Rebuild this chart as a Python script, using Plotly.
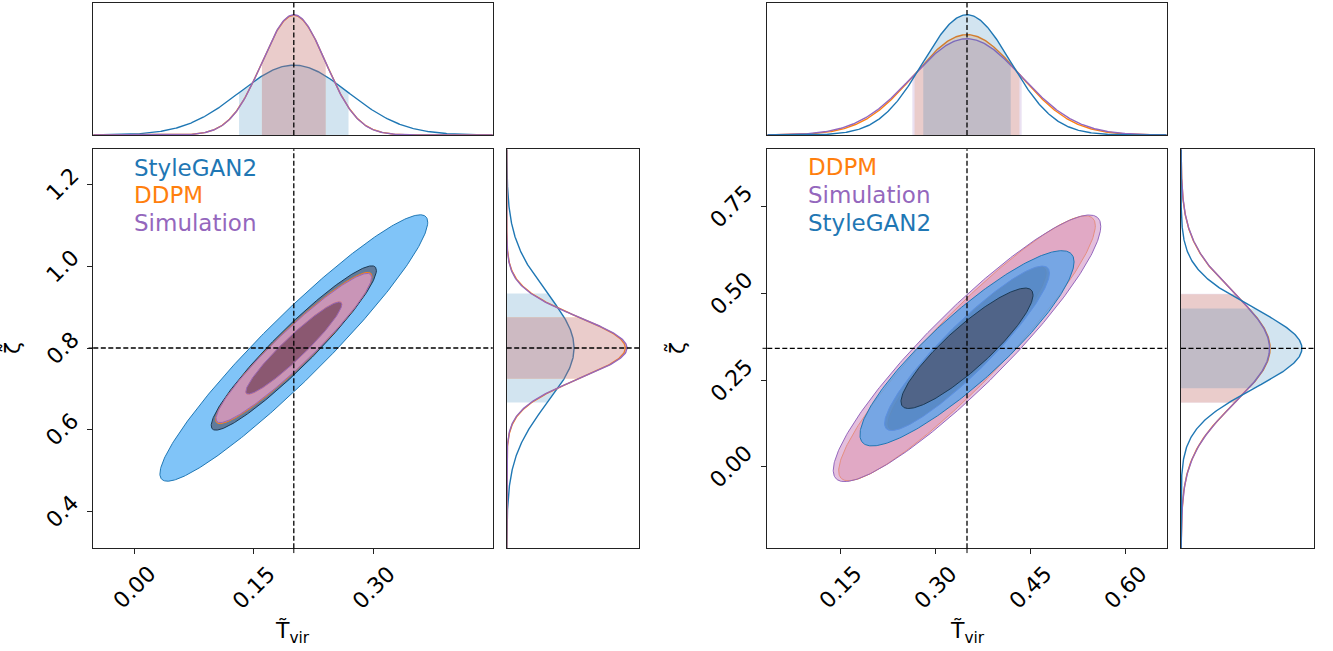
import numpy as np
import plotly.graph_objects as go

W, H = 1333, 651

# ---------------- data ----------------
# Left panel
left_models = ["StyleGAN2", "DDPM", "Simulation"]
left_mu_x = [0.200, 0.200, 0.200]
left_mu_y = [0.800, 0.800, 0.800]
left_sig_x = [0.0685, 0.0400, 0.0398]
left_sig_y = [0.1330, 0.0755, 0.0745]
left_rho = [0.944, 0.945, 0.946]
left_truth = [0.20, 0.80]
left_xticks = [0.00, 0.15, 0.30]
left_yticks = [0.4, 0.6, 0.8, 1.0, 1.2]
left_xticklabels = ["0.00", "0.15", "0.30"]
left_yticklabels = ["0.4", "0.6", "0.8", "1.0", "1.2"]
left_xrange = [-0.051, 0.449]
left_yrange = [0.3105, 1.2856]

# Right panel
right_models = ["DDPM", "Simulation", "StyleGAN2"]
right_mu_x = [0.350, 0.350, 0.350]
right_mu_y = [0.342, 0.342, 0.342]
right_sig_x = [0.0827, 0.0862, 0.0690]
right_sig_y = [0.156, 0.157, 0.115]
right_rho = [0.925, 0.915, 0.885]
right_truth = [0.35, 0.342]
right_xticks = [0.15, 0.30, 0.45, 0.60]
right_yticks = [0.00, 0.25, 0.50, 0.75]
right_xticklabels = ["0.15", "0.30", "0.45", "0.60"]
right_yticklabels = ["0.00", "0.25", "0.50", "0.75"]
right_xrange = [0.035, 0.665]
right_yrange = [-0.2345, 0.9156]

conf_levels = [0.95, 0.68]  # outer contour first

# ---------------- styles ----------------
line_col = {"StyleGAN2": "#1f77b4", "DDPM": "#ff7f0e", "Simulation": "#9467bd"}
fill_95 = {"StyleGAN2": "rgba(60,165,245,0.65)", "DDPM": "rgba(240,160,155,0.62)",
           "Simulation": "rgba(212,152,200,0.62)"}
fill_68 = {"StyleGAN2": "rgba(75,75,93,0.6)", "DDPM": "rgba(150,80,60,0.5)",
           "Simulation": "rgba(84,40,61,0.5)"}
line_68 = {"StyleGAN2": "#1c3a55", "DDPM": "#ff7f0e", "Simulation": "#9467bd"}
marg_fill = {"StyleGAN2": "rgba(31,119,180,0.2)", "DDPM": "rgba(255,127,14,0.2)",
             "Simulation": "rgba(148,103,189,0.2)"}

FONT = "DejaVu Sans"
TICK_SIZE = 22


def px_x(p):
    return p / W


def px_y(p):
    return 1 - p / H


def gauss(t, mu, s):
    return np.exp(-0.5 * ((t - mu) / s) ** 2) / (s * np.sqrt(2 * np.pi))


fig = go.Figure()


def add_panel(models, mux, muy, sx, sy, rho, truth, xr, yr, ax):
    a_main, a_top, a_side = ax
    th = np.linspace(0, 2 * np.pi, 361)
    gx = np.linspace(xr[0], xr[1], 500)
    gy = np.linspace(yr[0], yr[1], 500)
    peak_top = max(1 / (s * np.sqrt(2 * np.pi)) for s in sx)
    peak_side = max(1 / (s * np.sqrt(2 * np.pi)) for s in sy)

    for i, m in enumerate(models):
        # 2D contours
        for cl in conf_levels:
            k = np.sqrt(-2 * np.log(1 - cl))
            ex = mux[i] + k * sx[i] * np.cos(th)
            ey = muy[i] + k * sy[i] * (rho[i] * np.cos(th) + np.sqrt(1 - rho[i] ** 2) * np.sin(th))
            fig.add_trace(go.Scatter(
                x=ex, y=ey, mode="lines", fill="toself",
                fillcolor=fill_95[m] if cl == 0.95 else fill_68[m],
                line=dict(color=line_col[m] if cl == 0.95 else line_68[m], width=1),
                xaxis=a_main[0], yaxis=a_main[1], hoverinfo="skip", showlegend=False))
        # top marginal
        band = np.linspace(mux[i] - sx[i], mux[i] + sx[i], 200)
        fig.add_trace(go.Scatter(x=band, y=gauss(band, mux[i], sx[i]), mode="lines",
                                 fill="tozeroy", fillcolor=marg_fill[m], line=dict(width=0),
                                 xaxis=a_top[0], yaxis=a_top[1], hoverinfo="skip", showlegend=False))
        fig.add_trace(go.Scatter(x=gx, y=gauss(gx, mux[i], sx[i]), mode="lines",
                                 line=dict(color=line_col[m], width=1.4),
                                 xaxis=a_top[0], yaxis=a_top[1], hoverinfo="skip", showlegend=False))
        # side marginal
        band = np.linspace(muy[i] - sy[i], muy[i] + sy[i], 200)
        fig.add_trace(go.Scatter(x=gauss(band, muy[i], sy[i]), y=band, mode="lines",
                                 fill="tozerox", fillcolor=marg_fill[m], line=dict(width=0),
                                 xaxis=a_side[0], yaxis=a_side[1], hoverinfo="skip", showlegend=False))
        fig.add_trace(go.Scatter(x=gauss(gy, muy[i], sy[i]), y=gy, mode="lines",
                                 line=dict(color=line_col[m], width=1.4),
                                 xaxis=a_side[0], yaxis=a_side[1], hoverinfo="skip", showlegend=False))

    # truth lines
    dash = dict(color="black", width=1.3, dash="5px,2.5px")
    for (xa, ya) in [a_main, a_top]:
        fig.add_shape(type="line", xref=xa, yref=ya + " domain", x0=truth[0], x1=truth[0],
                      y0=0, y1=1, line=dash, layer="above")
    for (xa, ya) in [a_main, a_side]:
        fig.add_shape(type="line", xref=xa + " domain", yref=ya, x0=0, x1=1,
                      y0=truth[1], y1=truth[1], line=dash, layer="above")
    # small marks outside axes at truth position
    fig.add_shape(type="line", xref=a_main[0], yref=a_main[1] + " domain", x0=truth[0], x1=truth[0],
                  y0=-0.012, y1=0, line=dict(color="black", width=1), layer="above")
    fig.add_shape(type="line", xref=a_main[0] + " domain", yref=a_main[1], x0=-0.012, x1=0,
                  y0=truth[1], y1=truth[1], line=dict(color="black", width=1), layer="above")
    return peak_top, peak_side


lp = add_panel(left_models, left_mu_x, left_mu_y, left_sig_x, left_sig_y, left_rho,
               left_truth, left_xrange, left_yrange, [("x", "y"), ("x2", "y2"), ("x3", "y3")])
rp = add_panel(right_models, right_mu_x, right_mu_y, right_sig_x, right_sig_y, right_rho,
               right_truth, right_xrange, right_yrange, [("x4", "y4"), ("x5", "y5"), ("x6", "y6")])

frame = dict(showline=True, mirror=True, linecolor="#222", linewidth=1, showgrid=False, zeroline=False)


def main_axis(dom, rng, tv):
    return dict(domain=dom, range=rng, tickvals=tv, showticklabels=False, ticks="outside",
                ticklen=5, tickwidth=1, tickcolor="#222", **frame)


def blank_axis(dom, rng):
    return dict(domain=dom, range=rng, showticklabels=False, ticks="", **frame)


# axes boxes in pixels
L_left, L_right = 93.3, 492.7
R_left, R_right = 767.3, 1166.7
main_top, main_bot = 149.3, 548.3
top_top, top_bot = 2.7, 135

ydom_main = [px_y(main_bot), px_y(main_top)]
ydom_top = [px_y(top_bot), px_y(top_top)]
L_x = [px_x(L_left), px_x(L_right)]
L_side_x = [px_x(506.7), px_x(639)]
R_x = [px_x(R_left), px_x(R_right)]
R_side_x = [px_x(1181), px_x(1314)]

fig.update_layout(
    width=W, height=H, margin=dict(l=0, r=0, t=0, b=0), autosize=False,
    paper_bgcolor="white", plot_bgcolor="white", showlegend=False,
    xaxis=dict(anchor="y", **main_axis(L_x, left_xrange, left_xticks)),
    yaxis=dict(anchor="x", **main_axis(ydom_main, left_yrange, left_yticks)),
    xaxis2=dict(anchor="y2", **blank_axis(L_x, left_xrange)),
    yaxis2=dict(anchor="x2", **blank_axis(ydom_top, [0, 1.1 * lp[0]])),
    xaxis3=dict(anchor="y3", **blank_axis(L_side_x, [0, 1.1 * lp[1]])),
    yaxis3=dict(anchor="x3", **blank_axis(ydom_main, left_yrange)),
    xaxis4=dict(anchor="y4", **main_axis(R_x, right_xrange, right_xticks)),
    yaxis4=dict(anchor="x4", **main_axis(ydom_main, right_yrange, right_yticks)),
    xaxis5=dict(anchor="y5", **blank_axis(R_x, right_xrange)),
    yaxis5=dict(anchor="x5", **blank_axis(ydom_top, [0, 1.1 * rp[0]])),
    xaxis6=dict(anchor="y6", **blank_axis(R_side_x, [0, 1.1 * rp[1]])),
    yaxis6=dict(anchor="x6", **blank_axis(ydom_main, right_yrange)),
)

ann = []
tfont = dict(family=FONT, size=TICK_SIZE, color="black")


def label_offset(txt):
    # centre of a 45-degree rotated label placed to the left of the axis
    w = TICK_SIZE * (0.636 * sum(c.isdigit() for c in txt) + 0.318 * txt.count("."))
    h = TICK_SIZE * 0.73
    return 13 + (w + h) / np.sqrt(2) / 2


# tick labels (rotated 45 degrees, centred on their ticks as in the original)
for xa, ya, xt, xl, yt, yl, axl in [
        ("x", "y", left_xticks, left_xticklabels, left_yticks, left_yticklabels, L_left),
        ("x4", "y4", right_xticks, right_xticklabels, right_yticks, right_yticklabels, R_left)]:
    for v, t in zip(xt, xl):
        ann.append(dict(text=t, x=v, xref=xa, y=px_y(main_bot + 39), yref="paper",
                        xanchor="center", yanchor="middle", showarrow=False, textangle=-45,
                        font=tfont))
    for v, t in zip(yt, yl):
        ann.append(dict(text=t, x=px_x(axl - label_offset(t)), xref="paper", y=v, yref=ya,
                        xanchor="center", yanchor="middle", showarrow=False, textangle=-45,
                        font=tfont))

# legends as coloured text
for models, x0, ys in [(left_models, 131.5, [168, 195, 222.7]), (right_models, 805.5, [167, 194.5, 222.7])]:
    for m, yy in zip(models, ys):
        ann.append(dict(text=m, x=px_x(x0), y=px_y(yy), xref="paper", yref="paper",
                        xanchor="left", yanchor="middle", showarrow=False,
                        font=dict(family=FONT, size=23, color=line_col[m])))
# axis titles
for xc in [292.5, 967]:
    ann.append(dict(text="T\u0303<sub>vir</sub>", x=px_x(xc), y=px_y(632), xref="paper", yref="paper",
                    xanchor="center", yanchor="middle", showarrow=False,
                    font=dict(family=FONT, size=22, color="black")))
for xc in [11, 676]:
    ann.append(dict(text="\u03b6\u0303", x=px_x(xc), y=px_y(348), xref="paper", yref="paper",
                    xanchor="center", yanchor="middle", showarrow=False, textangle=-90,
                    font=dict(family=FONT, size=22, color="black")))
fig.update_layout(annotations=ann)

fig.write_html("out.html")
